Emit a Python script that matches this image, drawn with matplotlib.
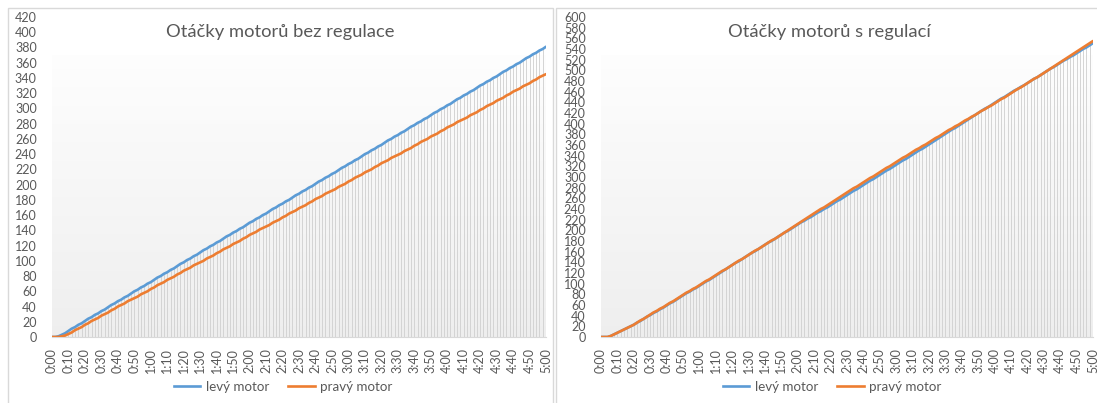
import matplotlib
matplotlib.use("Agg")
import matplotlib.pyplot as plt
import numpy as np
from matplotlib.patches import Rectangle
from matplotlib.lines import Line2D

plt.rcParams['font.family'] = ['Lato', 'DejaVu Sans']

# time axis: one sample every 2 seconds, 0:00 .. 5:00
time_s = list(range(0, 301, 2))

# cumulative revolutions without regulation
bez_levy = [
    0, 0, 1, 3, 5, 8,
    11, 13, 16, 18, 21, 24, 26, 29, 31, 34, 36, 39, 42, 44,
    47, 49, 52, 54, 57, 60, 62, 65, 67, 70, 72, 75, 78, 80,
    83, 85, 88, 90, 93, 96, 98, 101, 103, 106, 108, 111, 114, 116,
    119, 121, 124, 126, 129, 132, 134, 137, 139, 142, 144, 147, 150, 152,
    155, 157, 160, 162, 165, 168, 170, 173, 175, 178, 180, 183, 186, 188,
    191, 193, 196, 198, 201, 204, 206, 209, 211, 214, 216, 219, 222, 224,
    227, 229, 232, 234, 237, 240, 242, 245, 247, 250, 252, 255, 258, 260,
    263, 265, 268, 270, 273, 276, 278, 281, 283, 286, 288, 291, 294, 296,
    299, 301, 304, 306, 309, 312, 314, 317, 319, 322, 324, 327, 330, 332,
    335, 337, 340, 342, 345, 348, 350, 353, 355, 358, 360, 363, 366, 368,
    371, 373, 376, 378, 381,
]
bez_pravy = [
    0, 0, 0, 1, 2, 4,
    6, 9, 11, 13, 16, 18, 21, 23, 25, 28, 30, 32, 35, 37, 40, 42, 44, 47, 49, 51,
    53, 56, 58, 60, 63, 65, 68, 70, 72, 75, 77, 79, 82, 84, 87, 89, 91, 94, 96, 98,
    100, 103, 105, 107, 110, 112, 115, 117, 119, 122, 124, 126, 129, 131, 134, 136, 138, 141, 143, 145,
    147, 150, 152, 154, 157, 159, 162, 164, 166, 169, 171, 173, 176, 178, 181, 183, 185, 188, 190, 192,
    194, 197, 199, 201, 204, 206, 209, 211, 213, 216, 218, 220, 223, 225, 228, 230, 232, 235, 237, 239,
    241, 244, 246, 248, 251, 253, 256, 258, 260, 263, 265, 267, 270, 272, 275, 277, 279, 282, 284, 286,
    288, 291, 293, 295, 298, 300, 303, 305, 307, 310, 312, 314, 317, 319, 322, 324, 326, 329, 331, 333,
    336, 338, 341, 343, 345,
]

# cumulative revolutions with regulation
s_levy = [
    0, 0, 0, 2, 5, 8,
    11, 14, 17, 20, 23, 27, 30, 34, 38, 41,
    45, 48, 52, 55, 59, 63, 66, 70, 74, 78,
    82, 85, 89, 92, 96, 100, 104, 107, 111, 115,
    119, 123, 127, 131, 135, 139, 142, 146, 150, 154,
    158, 161, 165, 169, 173, 177, 180, 184, 188, 192,
    196, 199, 203, 207, 211, 215, 218, 222, 225, 229,
    233, 236, 240, 243, 247, 251, 255, 258, 262, 266,
    270, 274, 277, 281, 285, 289, 293, 296, 300, 304,
    308, 312, 315, 319, 323, 327, 331, 334, 338, 342,
    346, 350, 353, 357, 361, 365, 369, 373, 377, 381,
    385, 389, 392, 396, 400, 404, 408, 412, 416, 420,
    424, 428, 431, 435, 439, 443, 447, 450, 454, 458,
    462, 465, 469, 472, 476, 480, 484, 487, 491, 495,
    499, 503, 506, 510, 514, 518, 521, 525, 528, 532,
    536, 540, 543, 547, 551,
]
s_pravy = [
    0, 0, 0, 2, 5, 8,
    11, 14, 17, 20, 23, 27, 31, 34, 38, 42,
    46, 49, 53, 56, 60, 64, 67, 71, 75, 79,
    83, 86, 90, 93, 97, 101, 105, 108, 112, 116,
    120, 124, 127, 131, 135, 139, 143, 146, 150, 154,
    158, 162, 165, 169, 173, 177, 181, 184, 188, 192,
    196, 200, 204, 208, 212, 216, 220, 224, 228, 232,
    236, 240, 243, 247, 251, 255, 259, 263, 267, 271,
    275, 279, 282, 286, 290, 294, 298, 301, 305, 309,
    313, 317, 320, 324, 328, 332, 336, 339, 343, 347,
    351, 354, 358, 361, 365, 369, 373, 376, 380, 384,
    388, 391, 395, 398, 402, 406, 409, 413, 416, 420,
    424, 427, 431, 434, 438, 442, 446, 449, 453, 457,
    461, 465, 468, 472, 476, 480, 484, 487, 491, 495,
    499, 503, 507, 511, 515, 519, 523, 527, 531, 535,
    539, 543, 547, 551, 555,
]

titles = ["Otáčky motorů bez regulace", "Otáčky motorů s regulací"]
series_names = ["levý motor", "pravý motor"]
y_max = [420, 600]
tick_times = list(range(0, 301, 10))
tick_labels = [f"{t // 60}:{t % 60:02d}" for t in tick_times]

BLUE = "#5b9bd5"
ORANGE = "#ed7d31"
TXT = "#595959"
GRID = "#d9d9d9"

W, H = 1097, 403
fig = plt.figure(figsize=(W / 100, H / 100), dpi=100)
fig.patch.set_facecolor("white")


def px_axes(x0, x1, y_top, y_bot):
    return fig.add_axes([x0 / W, 1 - y_bot / H, (x1 - x0) / W, (y_bot - y_top) / H])


# panel frames
for (x0, x1) in [(8, 553), (556, 1100)]:
    fig.patches.append(Rectangle((x0 / W, -0.1), (x1 - x0) / W, (H + 40 - 8) / H,
                                 transform=fig.transFigure, fill=False,
                                 edgecolor=GRID, lw=1.0))

# plot areas
layouts = [(52, 546), (601, 1093)]
panel_centers = [280, 829]
data = [(bez_levy, bez_pravy), (s_levy, s_pravy)]

# vertical background gradient (white at top, light grey at bottom)
grad = np.linspace(0, 1, 256).reshape(-1, 1)
c_top = np.array([0.995, 0.995, 0.995])
c_bot = np.array([0.935, 0.935, 0.935])
grad_img = c_top + (c_bot - c_top) * grad
grad_img = grad_img.reshape(256, 1, 3)

for i in range(2):
    x0, x1 = layouts[i]
    ax = px_axes(x0, x1, 17, 337)
    ax.patch.set_alpha(0)
    # gradient starts a little below the top of the value axis
    y_grad_top = y_max[i] * (337 - 55) / 320
    ax.imshow(grad_img, extent=(-1.5, 300, 0, y_grad_top), aspect="auto",
              zorder=0, interpolation="bilinear")
    ax.set_xlim(0, 300)
    ax.set_ylim(0, y_max[i])

    levy, pravy = data[i]
    top = np.maximum(levy, pravy)
    ax.vlines(time_s, 0, top, colors="#d4d4d4", lw=0.7, zorder=1)
    ax.plot(time_s, levy, color=BLUE, lw=1.9, zorder=3, solid_capstyle="round")
    ax.plot(time_s, pravy, color=ORANGE, lw=1.9, zorder=3, solid_capstyle="round")

    for s in ["top", "right", "left"]:
        ax.spines[s].set_visible(False)
    ax.spines["bottom"].set_color(GRID)
    ax.spines["bottom"].set_linewidth(0.8)

    ax.set_yticks(range(0, y_max[i] + 1, 20))
    ax.set_xticks(tick_times)
    ax.set_xticklabels(tick_labels, rotation=90, va="top", ha="center")
    ax.tick_params(axis="both", length=0, colors=TXT, labelsize=9)
    ax.tick_params(axis="y", pad=11)
    ax.tick_params(axis="x", pad=8)

    fig.text(panel_centers[i] / W, 1 - 32 / H, titles[i], ha="center", va="center",
             fontsize=13.2, color=TXT)

    handles = [Line2D([], [], color=BLUE, lw=1.9), Line2D([], [], color=ORANGE, lw=1.9)]
    fig.legend(handles, series_names, loc="center",
               bbox_to_anchor=((panel_centers[i] + 3) / W, 1 - 387 / H),
               ncol=2, frameon=False, fontsize=9.6, labelcolor=TXT,
               handlelength=2.0, handletextpad=0.4, columnspacing=1.4)

fig.savefig("out.png", dpi=100, facecolor="white")
